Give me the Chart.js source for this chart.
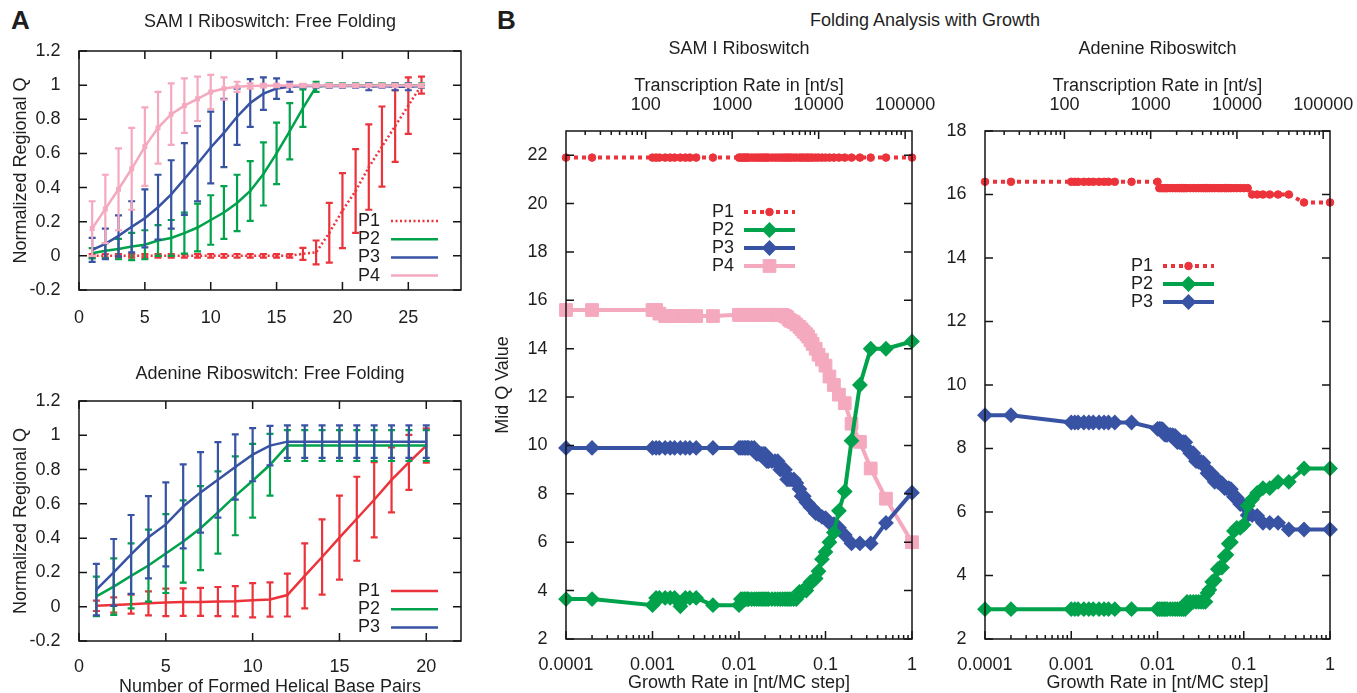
<!DOCTYPE html>
<html>
<head>
<meta charset="utf-8">
<title>Riboswitch folding analysis</title>
<script src="https://cdn.jsdelivr.net/npm/chart.js@4.4.1/dist/chart.umd.min.js"></script>
<style>
  html, body { margin: 0; padding: 0; background: #fff; overflow: hidden; }
  #page { position: relative; width: 1357px; height: 693px; overflow: hidden;
          font-family: 'Liberation Sans', Arial, Helvetica, sans-serif; color: #1e1e1e; }
  .panel { position: absolute; }
  .letter { position: absolute; font-weight: bold; font-size: 26px; line-height: 30px; }
  .head { position: absolute; font-size: 18px; line-height: 20px; white-space: nowrap; transform: translateX(-50%); }
</style>
</head>
<body>
<div id="page">
  <div class="letter" style="left:11px;top:5px">A</div>
  <div class="letter" style="left:497px;top:5px">B</div>
  <div class="head" style="left:925px;top:10px">Folding Analysis with Growth</div>
  <div class="panel" style="left:0;top:0;width:490px;height:340px"><canvas id="samFree"></canvas></div>
  <div class="panel" style="left:0;top:340px;width:490px;height:360px"><canvas id="adeFree"></canvas></div>
  <div class="panel" style="left:470px;top:0;width:490px;height:700px"><canvas id="samGrow"></canvas></div>
  <div class="panel" style="left:925px;top:0;width:470px;height:700px"><canvas id="adeGrow"></canvas></div>
</div>
<script>
// ---- panel A: free folding (x = formed helical base pairs) ----
const samFreeX = [1, 2, 3, 4, 5, 6, 7, 8, 9, 10, 11, 12, 13, 14, 15, 16, 17, 18, 19, 20, 21, 22, 23, 24, 25, 26];
const samFreeP1 = [0, 0, 0, 0, 0, 0, 0, 0, 0, 0, 0, 0, 0, 0, 0, 0, 0.012, 0.02, 0.135, 0.265, 0.38, 0.52, 0.64, 0.76, 0.88, 1.0];
const samFreeP1Err = [0.01, 0.01, 0.01, 0.01, 0.01, 0.01, 0.01, 0.01, 0.01, 0.01, 0.01, 0.01, 0.01, 0.01, 0.01, 0.01, 0.035, 0.07, 0.175, 0.22, 0.245, 0.25, 0.235, 0.21, 0.165, 0.05];
const samFreeP2 = [0.015, 0.03, 0.04, 0.055, 0.065, 0.09, 0.105, 0.133, 0.166, 0.21, 0.254, 0.31, 0.38, 0.48, 0.6, 0.73, 0.865, 0.99, 1, 1, 1, 1, 1, 1, 1, 1];
const samFreeP2Err = [0.03, 0.045, 0.06, 0.08, 0.085, 0.09, 0.105, 0.12, 0.14, 0.145, 0.155, 0.165, 0.175, 0.185, 0.18, 0.165, 0.11, 0.03, 0.01, 0.01, 0.01, 0.01, 0.01, 0.01, 0.01, 0.01];
const samFreeP3 = [0.035, 0.07, 0.117, 0.17, 0.22, 0.285, 0.36, 0.45, 0.54, 0.635, 0.72, 0.815, 0.895, 0.95, 0.98, 0.99, 0.995, 0.995, 0.995, 0.995, 0.995, 0.99, 0.995, 0.99, 0.99, 0.995];
const samFreeP3Err = [0.07, 0.09, 0.12, 0.15, 0.17, 0.19, 0.2, 0.21, 0.22, 0.21, 0.2, 0.165, 0.14, 0.095, 0.06, 0.03, 0.01, 0.01, 0.01, 0.01, 0.01, 0.02, 0.01, 0.02, 0.02, 0.01];
const samFreeP4 = [0.16, 0.275, 0.39, 0.51, 0.64, 0.75, 0.83, 0.88, 0.92, 0.96, 0.98, 0.99, 0.995, 0.997, 0.998, 0.998, 0.998, 0.998, 0.998, 0.998, 0.998, 0.998, 0.998, 0.998, 0.998, 0.998];
const samFreeP4Err = [0.16, 0.2, 0.24, 0.24, 0.23, 0.21, 0.18, 0.16, 0.13, 0.1, 0.065, 0.03, 0.015, 0.01, 0.01, 0.01, 0.01, 0.01, 0.01, 0.01, 0.01, 0.01, 0.01, 0.01, 0.01, 0.01];

const adeFreeX = [1, 2, 3, 4, 5, 6, 7, 8, 9, 10, 11, 12, 13, 14, 15, 16, 17, 18, 19, 20];
const adeFreeP1 = [0.005, 0.01, 0.015, 0.02, 0.025, 0.027, 0.028, 0.03, 0.032, 0.038, 0.042, 0.068, 0.18, 0.29, 0.403, 0.513, 0.624, 0.74, 0.842, 0.94];
const adeFreeP1Err = [0.03, 0.045, 0.055, 0.07, 0.08, 0.08, 0.082, 0.085, 0.088, 0.1, 0.1, 0.125, 0.19, 0.22, 0.245, 0.245, 0.22, 0.19, 0.16, 0.1];
const adeFreeP2 = [0.06, 0.117, 0.18, 0.24, 0.31, 0.38, 0.458, 0.55, 0.647, 0.735, 0.828, 0.94, 0.94, 0.94, 0.94, 0.94, 0.94, 0.94, 0.94, 0.94];
const adeFreeP2Err = [0.115, 0.165, 0.19, 0.21, 0.23, 0.24, 0.245, 0.24, 0.23, 0.215, 0.18, 0.09, 0.09, 0.09, 0.09, 0.09, 0.09, 0.09, 0.09, 0.09];
const adeFreeP3 = [0.1, 0.2, 0.305, 0.405, 0.48, 0.585, 0.667, 0.74, 0.815, 0.887, 0.94, 0.963, 0.963, 0.963, 0.963, 0.963, 0.963, 0.963, 0.963, 0.963];
const adeFreeP3Err = [0.15, 0.195, 0.23, 0.24, 0.245, 0.245, 0.235, 0.22, 0.19, 0.155, 0.115, 0.095, 0.095, 0.095, 0.095, 0.095, 0.095, 0.095, 0.095, 0.095];

// ---- panel B: folding with growth (x = growth rate, nt per MC step) ----
const growthRates = [
  0.0001, 0.0002, 0.001, 0.0011, 0.0012, 0.0014, 0.0016, 0.0018, 0.0021, 0.0024, 0.0027, 0.0032, 0.005,
  0.01, 0.0105, 0.011, 0.0115, 0.012, 0.0125, 0.013, 0.014, 0.015, 0.016, 0.017, 0.018, 0.019, 0.02,
  0.021, 0.022, 0.024, 0.026, 0.028, 0.03, 0.032, 0.034, 0.036, 0.038, 0.04, 0.043, 0.046, 0.05,
  0.053, 0.056, 0.06, 0.063, 0.067, 0.071, 0.077, 0.083, 0.091, 0.1,
  0.111, 0.125, 0.143, 0.167, 0.2, 0.25, 0.333, 0.5, 1
];
const samGrowP1 = [
  21.9, 21.9, 21.9, 21.9, 21.9, 21.9, 21.9, 21.9, 21.9, 21.9, 21.9, 21.9, 21.9,
  21.9, 21.9, 21.9, 21.9, 21.9, 21.9, 21.9, 21.9, 21.9, 21.9, 21.9, 21.9, 21.9, 21.9,
  21.9, 21.9, 21.9, 21.9, 21.9, 21.9, 21.9, 21.9, 21.9, 21.9, 21.9, 21.9, 21.9, 21.9,
  21.9, 21.9, 21.9, 21.9, 21.9, 21.9, 21.9, 21.9, 21.9, 21.9,
  21.9, 21.9, 21.9, 21.9, 21.9, 21.9, 21.9, 21.9, 21.9
];
const samGrowP2 = [
  3.65, 3.65, 3.4, 3.7, 3.7, 3.7, 3.7, 3.7, 3.35, 3.7, 3.7, 3.7, 3.4,
  3.4, 3.65, 3.65, 3.65, 3.65, 3.65, 3.65, 3.65, 3.65, 3.65, 3.65, 3.65, 3.65, 3.65,
  3.65, 3.65, 3.65, 3.65, 3.65, 3.65, 3.65, 3.65, 3.65, 3.65, 3.65, 3.65, 3.65, 3.95,
  3.95, 4.0, 4.0, 4.2, 4.35, 4.4, 4.5, 4.8, 5.3, 5.6,
  6.0, 6.4, 7.3, 8.1, 10.2, 12.5, 14.0, 14.0, 14.3
];
const samGrowP3 = [
  9.9, 9.9, 9.9, 9.9, 9.9, 9.9, 9.9, 9.9, 9.9, 9.9, 9.9, 9.9, 9.9,
  9.9, 9.9, 9.9, 9.9, 9.9, 9.9, 9.9, 9.9, 9.9, 9.65, 9.65, 9.65, 9.65, 9.65,
  9.35, 9.35, 9.35, 9.35, 9.35, 9.0, 9.0, 9.0, 8.6, 8.6, 8.6, 8.6, 8.45, 8.2,
  7.9, 7.9, 7.65, 7.6, 7.45, 7.4, 7.2, 7.15, 7.05, 7.0,
  6.8, 6.75, 6.6, 6.3, 5.95, 5.95, 5.95, 6.8, 8.05
];
const samGrowP4 = [
  15.6, 15.6, 15.6, 15.6, 15.45, 15.35, 15.35, 15.35, 15.35, 15.35, 15.35, 15.35, 15.35,
  15.4, 15.4, 15.4, 15.4, 15.4, 15.4, 15.4, 15.4, 15.4, 15.4, 15.4, 15.4, 15.4, 15.4,
  15.4, 15.4, 15.4, 15.4, 15.4, 15.4, 15.4, 15.35, 15.3, 15.2, 15.15, 15.1, 15.0, 14.9,
  14.8, 14.7, 14.6, 14.5, 14.35, 14.2, 14.0, 13.75, 13.55, 13.3,
  12.85, 12.5, 12.1, 11.75, 10.9, 10.15, 9.05, 7.8, 6.0
];
const adeGrowP1 = [
  16.4, 16.4, 16.4, 16.4, 16.4, 16.4, 16.4, 16.4, 16.4, 16.4, 16.4, 16.4, 16.4,
  16.4, 16.2, 16.2, 16.2, 16.2, 16.2, 16.2, 16.2, 16.2, 16.2, 16.2, 16.2, 16.2, 16.2,
  16.2, 16.2, 16.2, 16.2, 16.2, 16.2, 16.2, 16.2, 16.2, 16.2, 16.2, 16.2, 16.2, 16.2,
  16.2, 16.2, 16.2, 16.2, 16.2, 16.2, 16.2, 16.2, 16.2, 16.2,
  16.2, 16.0, 16.0, 16.0, 16.0, 16.0, 16.0, 15.75, 15.75
];
const adeGrowP2 = [
  2.94, 2.94, 2.94, 2.94, 2.94, 2.94, 2.94, 2.94, 2.94, 2.94, 2.94, 2.94, 2.94,
  2.94, 2.94, 2.94, 2.94, 2.94, 2.94, 2.94, 2.94, 2.94, 2.94, 2.94, 2.94, 2.94, 2.94,
  2.94, 3.17, 3.17, 3.17, 3.17, 3.17, 3.17, 3.17, 3.17, 3.45, 3.55, 3.8, 3.85, 4.2,
  4.25, 4.25, 4.6, 4.65, 5.0, 5.05, 5.4, 5.5, 5.5, 5.6,
  6.2, 6.4, 6.6, 6.75, 6.75, 6.95, 6.95, 7.37, 7.37
];
const adeGrowP3 = [
  9.05, 9.05, 8.82, 8.82, 8.82, 8.82, 8.82, 8.82, 8.82, 8.82, 8.82, 8.82, 8.82,
  8.62, 8.62, 8.62, 8.6, 8.45, 8.43, 8.43, 8.43, 8.42, 8.4, 8.2, 8.2, 8.2, 8.2,
  8.2, 8.0, 7.85, 7.85, 7.6, 7.58, 7.58, 7.55, 7.4, 7.22, 7.2, 7.2, 6.95, 6.95,
  6.95, 6.9, 6.75, 6.75, 6.75, 6.72, 6.48, 6.45, 6.25, 6.2,
  5.9, 5.9, 5.88, 5.66, 5.66, 5.66, 5.45, 5.45, 5.45
];

// tick labels
const growthTicks = [0.0001, 0.001, 0.01, 0.1, 1];
const growthTickLabels = ['0.0001', '0.001', '0.01', '0.1', '1'];
const rateTicks = [100, 1000, 10000, 100000];
const rateTickLabels = ['100', '1000', '10000', '100000'];
const rateMin = 12, rateMax = 120000;   // transcription rate matching the growth-rate range

const RED = '#ec333b', GREEN = '#00a24b', BLUE = '#3853a3', PINK = '#f4a9bf';
const FONT = "'Liberation Sans', Arial, Helvetica, sans-serif";

Chart.defaults.font.family = FONT;
Chart.defaults.font.size = 18;
Chart.defaults.color = '#1e1e1e';
Chart.defaults.animation = false;
Chart.defaults.plugins.legend.display = false;
Chart.defaults.plugins.tooltip.enabled = false;

function pts(xs, ys) {
  return xs.map((x, i) => ({ x: x, y: ys[i] }));
}

function tickLabel(value, ticks, labels) {
  const i = ticks.findIndex(t => Math.abs(t - value) <= t * 1e-6);
  return i < 0 ? '' : labels[i];
}

// gnuplot style: "1", "0.8", "0", "-0.2"
function plainTick(value) {
  const r = Math.round(value * 10) / 10;
  return r === 0 ? '0' : String(r);
}

// 1..9 x 10^n marks between min and max
function logMarks(min, max) {
  const out = [];
  for (let e = Math.floor(Math.log10(min)); e <= Math.ceil(Math.log10(max)); e++) {
    for (let m = 1; m <= 9; m++) {
      const v = m * Math.pow(10, e);
      if (v >= min * 0.9999 && v <= max * 1.0001) out.push({ v: v, major: m === 1 });
    }
  }
  return out;
}

// frame, inward ticks, error bars, titles and the in-plot legend
const decor = {
  id: 'decor',
  afterDatasetDraw(chart, args) {
    const ds = chart.data.datasets[args.index];
    if (!ds.errors) return;
    const ctx = chart.ctx, ys = chart.scales.y;
    ctx.save();
    ctx.strokeStyle = ds.borderColor;
    ctx.lineWidth = 2.2;
    ctx.beginPath();
    args.meta.data.forEach((el, i) => {
      const v = ds.data[i].y, e = ds.errors[i];
      const lo = ys.getPixelForValue(v - e), hi = ys.getPixelForValue(v + e);
      ctx.moveTo(el.x, lo); ctx.lineTo(el.x, hi);
      ctx.moveTo(el.x - 3.5, lo); ctx.lineTo(el.x + 3.5, lo);
      ctx.moveTo(el.x - 3.5, hi); ctx.lineTo(el.x + 3.5, hi);
    });
    ctx.stroke();
    ctx.restore();
  },
  afterDraw(chart, args, opts) {
    const ctx = chart.ctx, a = chart.chartArea;
    const xs = chart.scales.x, ys = chart.scales.y, ts = chart.scales.top;
    ctx.save();
    ctx.strokeStyle = '#151515';
    ctx.lineWidth = 1.5;
    ctx.strokeRect(a.left, a.top, a.right - a.left, a.bottom - a.top);
    ctx.beginPath();
    ys.ticks.forEach(t => {
      const y = ys.getPixelForValue(t.value);
      ctx.moveTo(a.left, y); ctx.lineTo(a.left + 8, y);
      ctx.moveTo(a.right, y); ctx.lineTo(a.right - 8, y);
    });
    if (xs.type === 'logarithmic') {
      logMarks(xs.min, xs.max).forEach(m => {
        const x = xs.getPixelForValue(m.v);
        ctx.moveTo(x, a.bottom); ctx.lineTo(x, a.bottom - (m.major ? 8 : 4));
      });
      logMarks(ts.min, ts.max).forEach(m => {
        const x = ts.getPixelForValue(m.v);
        ctx.moveTo(x, a.top); ctx.lineTo(x, a.top + (m.major ? 8 : 4));
      });
    } else {
      xs.ticks.forEach(t => {
        const x = xs.getPixelForValue(t.value);
        ctx.moveTo(x, a.bottom); ctx.lineTo(x, a.bottom - 8);
        ctx.moveTo(x, a.top); ctx.lineTo(x, a.top + 8);
      });
    }
    ctx.stroke();

    ctx.font = '18px ' + FONT;
    ctx.fillStyle = '#1e1e1e';
    ctx.textAlign = 'center';
    ctx.textBaseline = 'middle';
    ctx.fillText(opts.title, (a.left + a.right) / 2, opts.titleY);

    const lg = opts.legend;
    chart.data.datasets.forEach((ds, i) => {
      const y = a.top + lg.y + i * lg.row;
      ctx.textAlign = 'left';
      ctx.fillStyle = '#1e1e1e';
      ctx.fillText(ds.label, a.left + lg.x, y);
      ctx.strokeStyle = ds.borderColor;
      ctx.lineWidth = ds.borderWidth;
      ctx.setLineDash(ds.borderDash || []);
      ctx.beginPath();
      ctx.moveTo(a.left + lg.x0, y);
      ctx.lineTo(a.left + lg.x1, y);
      ctx.stroke();
      ctx.setLineDash([]);
      if (lg.markers) {
        ctx.fillStyle = ds.borderColor;
        ctx.lineWidth = ds.pointBorderWidth;
        Chart.helpers.drawPoint(ctx, { pointStyle: ds.pointStyle, radius: ds.pointRadius, borderWidth: ds.pointBorderWidth, rotation: 0 },
          a.left + (lg.x0 + lg.x1) / 2, y);
      }
    });
    ctx.restore();
  }
};

function freeSet(label, color, xs, ys, errs, extra) {
  return Object.assign({
    label: label, data: pts(xs, ys), errors: errs,
    xAxisID: 'x', yAxisID: 'y',
    borderColor: color, backgroundColor: color,
    borderWidth: 2.5, pointRadius: 1.5, pointStyle: 'rect', pointBorderWidth: 0,
    tension: 0, clip: false
  }, extra);
}

function growSet(label, color, ys, extra) {
  return Object.assign({
    label: label, data: pts(growthRates, ys),
    xAxisID: 'x', yAxisID: 'y',
    borderColor: color, backgroundColor: color,
    borderWidth: 4, pointStyle: 'rectRot', pointRadius: 6.5, pointBorderWidth: 2,
    tension: 0, clip: false
  }, extra);
}

const flat = { grid: { display: false }, border: { display: false } };

function freeOptions(o) {
  return {
    responsive: true, maintainAspectRatio: false,
    layout: { padding: { top: o.top, right: 29, left: 0, bottom: 0 } },
    plugins: {
      decor: { title: o.title, titleY: o.titleY,
               legend: { x: 279, y: o.legendY, row: 18.2, x0: 312, x1: 359, markers: false } }
    },
    scales: {
      x: Object.assign({
        type: 'linear', min: 0, max: o.xMax,
        ticks: { stepSize: 5, includeBounds: false, padding: o.xPad, maxRotation: 0 },
        title: { display: !!o.xTitle, text: o.xTitle || '', padding: { top: 0, bottom: 2.2 } },
        afterFit: s => { s.height = o.xHeight; }
      }, flat),
      y: Object.assign({
        type: 'linear', min: -0.2, max: 1.2,
        ticks: { stepSize: 0.2, padding: 10.5, callback: plainTick },
        title: { display: true, text: 'Normalized Regional Q', padding: { top: 10.4, bottom: 0 } },
        afterFit: s => { s.width = 79; }
      }, flat)
    }
  };
}

function growOptions(o) {
  return {
    responsive: true, maintainAspectRatio: false,
    layout: { padding: { top: 70, right: o.right, left: 0, bottom: 0 } },
    plugins: {
      decor: { title: o.title, titleY: 49,
               legend: { x: 146, y: o.legendY, row: 18, x0: 178, x1: 229, markers: true } }
    },
    scales: {
      x: Object.assign({
        type: 'logarithmic', position: 'bottom', min: 0.0001, max: 1,
        ticks: { autoSkip: false, maxRotation: 0, padding: 7.2,
                 callback: v => tickLabel(v, growthTicks, growthTickLabels) },
        title: { display: true, text: 'Growth Rate in [nt/MC step]', padding: { top: 0, bottom: 6.2 } },
        afterFit: s => { s.height = 61; }
      }, flat),
      top: Object.assign({
        type: 'logarithmic', position: 'top', axis: 'x', min: rateMin, max: rateMax,
        ticks: { autoSkip: false, maxRotation: 0, padding: 7.2,
                 callback: v => tickLabel(v, rateTicks, rateTickLabels) },
        title: { display: true, text: 'Transcription Rate in [nt/s]', padding: { top: 5.2, bottom: 0 } },
        afterFit: s => { s.height = 61; }
      }, flat),
      y: Object.assign({
        type: 'linear', min: 2, max: o.yMax,
        ticks: { stepSize: 2, includeBounds: false, padding: 10.5 },
        title: { display: !!o.yTitle, text: o.yTitle || '', padding: { top: 22.2, bottom: 0 } },
        afterFit: s => { s.width = o.yWidth; }
      }, flat)
    }
  };
}

new Chart(document.getElementById('samFree'), {
  type: 'line',
  data: {
    datasets: [
      freeSet('P1', RED, samFreeX, samFreeP1, samFreeP1Err, { borderDash: [2, 2.5], order: 3 }),
      freeSet('P2', GREEN, samFreeX, samFreeP2, samFreeP2Err, { order: 2 }),
      freeSet('P3', BLUE, samFreeX, samFreeP3, samFreeP3Err, { order: 1 }),
      freeSet('P4', PINK, samFreeX, samFreeP4, samFreeP4Err, { order: 0, pointRadius: 3.5 })
    ]
  },
  options: freeOptions({ top: 51, xMax: 29, xPad: 9.2, xHeight: 50, xTitle: null,
                         title: 'SAM I Riboswitch: Free Folding', titleY: 22, legendY: 170 }),
  plugins: [decor]
});

new Chart(document.getElementById('adeFree'), {
  type: 'line',
  data: {
    datasets: [
      freeSet('P1', RED, adeFreeX, adeFreeP1, adeFreeP1Err, { order: 2 }),
      freeSet('P2', GREEN, adeFreeX, adeFreeP2, adeFreeP2Err, { order: 1 }),
      freeSet('P3', BLUE, adeFreeX, adeFreeP3, adeFreeP3Err, { order: 0 })
    ]
  },
  options: freeOptions({ top: 61, xMax: 22, xPad: 7.5, xHeight: 59, xTitle: 'Number of Formed Helical Base Pairs',
                         title: 'Adenine Riboswitch: Free Folding', titleY: 34, legendY: 190 }),
  plugins: [decor]
});

new Chart(document.getElementById('samGrow'), {
  type: 'line',
  data: {
    datasets: [
      growSet('P1', RED, samGrowP1, { pointStyle: 'circle', pointRadius: 3.8, pointBorderWidth: 1, borderDash: [4, 4], order: 0 }),
      growSet('P2', GREEN, samGrowP2, { order: 1 }),
      growSet('P3', BLUE, samGrowP3, { order: 2 }),
      growSet('P4', PINK, samGrowP4, { pointStyle: 'rect', pointRadius: 9, pointBorderWidth: 1, order: 3 })
    ]
  },
  options: growOptions({ right: 48, yMax: 23, yWidth: 96, yTitle: 'Mid Q Value',
                         title: 'SAM I Riboswitch', legendY: 81 }),
  plugins: [decor]
});

new Chart(document.getElementById('adeGrow'), {
  type: 'line',
  data: {
    datasets: [
      growSet('P1', RED, adeGrowP1, { pointStyle: 'circle', pointRadius: 3.8, pointBorderWidth: 1, borderDash: [4, 4], order: 0 }),
      growSet('P2', GREEN, adeGrowP2, { order: 1 }),
      growSet('P3', BLUE, adeGrowP3, { order: 2 })
    ]
  },
  options: growOptions({ right: 65, yMax: 18, yWidth: 60, yTitle: null,
                         title: 'Adenine Riboswitch', legendY: 135 }),
  plugins: [decor]
});
</script>
</body>
</html>
